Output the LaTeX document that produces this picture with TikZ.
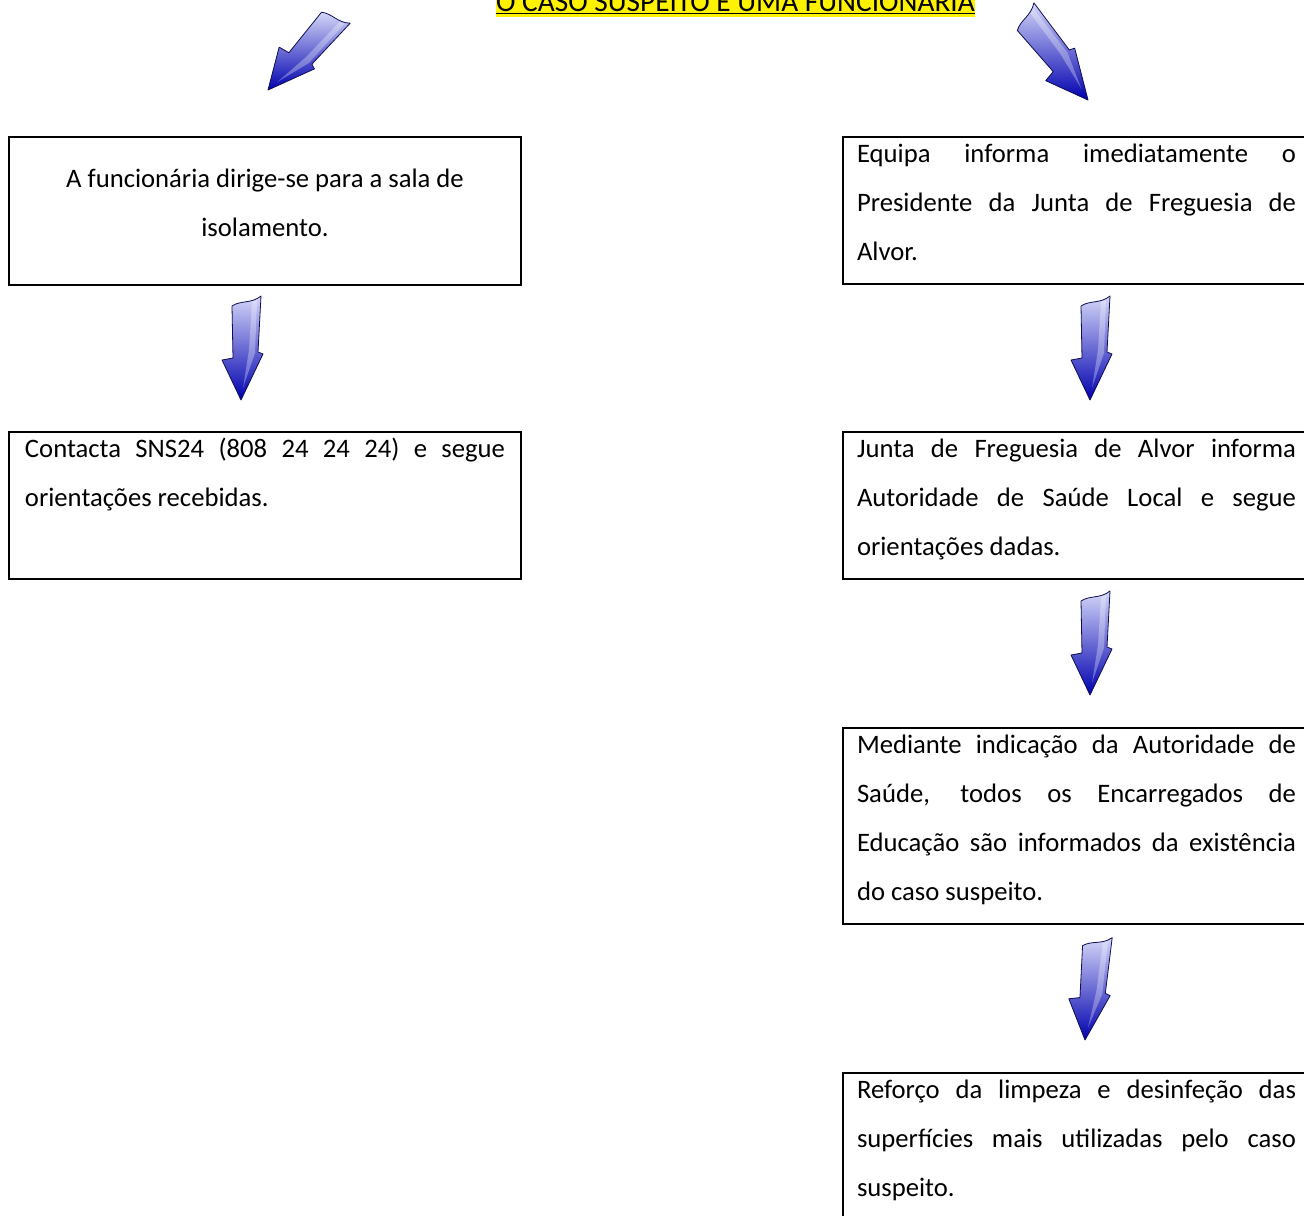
\documentclass[tikz,border=0pt]{standalone}
\usepackage{fontspec}
\setmainfont{Carlito}
\usetikzlibrary{positioning}

\definecolor{setaclara}{RGB}{212,214,248}
\definecolor{setameio}{RGB}{80,88,225}
\definecolor{setaescura}{RGB}{0,0,175}
\definecolor{setaborda}{RGB}{15,15,80}
\newcommand{\espaco}{\rule[-18pt]{0pt}{36.75pt}}
\newcommand{\ajuste}{\tolerance=9999\relax\hyphenpenalty=10000\relax}

\begin{document}
\begin{tikzpicture}[x=0.75pt, y=-0.75pt,
	caixa/.style={draw, line width=1.5pt, anchor=north west, inner ysep=0pt, align=justify,
		font=\fontsize{20}{36.75}\selectfont\ajuste},
	esquerda/.style={caixa, text width=360pt, inner xsep=12pt},
	direita/.style={caixa, text width=329.25pt, inner xsep=10.5pt},
	titulo/.style={fill=yellow, inner sep=0pt, anchor=base, text height=20pt, text depth=4.5pt,
		font=\fontsize{22}{26}\selectfont},
	pics/seta/.style={code={
		\shade[top color=setaclara, middle color=setameio, bottom color=setaescura, draw=setaborda,
			line width=0.6pt, line join=round]
			(0,0) -- (-19,-40) -- (-8,-42) -- (-9,-94) .. controls (0,-100) and (10,-96) .. (20,-104)
			-- (17,-48) -- (22,-46) -- cycle;
		\fill[white, opacity=0.3] (2,-12) -- (14,-47) -- (16,-100) -- (11,-98) -- (8,-50) -- cycle;
	}}]
	\useasboundingbox (0,0) rectangle (1304,1215);
	\clip (0,0) rectangle (1304,1215);

	% titulo
	\node[titulo] (t) at (735.5,11) {O CASO SUSPEITO É UMA FUNCIONÁRIA};
	\draw[line width=0.8pt] ([yshift=-1.9pt]t.base west) -- ([yshift=-1.9pt]t.base east);

	% lado esquerdo
	\node[esquerda, align=flush center, minimum height=111pt] (e1) at (8,136)
		{\espaco A funcionária dirige-se para a sala de\\isolamento.\espaco};
	\node[esquerda] (e2) at (8,431)
		{\espaco Contacta SNS24 (808 24 24 24) e segue\linebreak orientações recebidas.\par\espaco};

	% lado direito
	\node[direita] (d1) at (842,136)
		{\espaco Equipa informa imediatamente o\linebreak Presidente da Junta de Freguesia de\linebreak Alvor.\espaco};
	\node[direita] (d2) at (842,431)
		{\espaco Junta de Freguesia de Alvor informa\linebreak Autoridade de Saúde Local e segue\linebreak orientações dadas.\espaco};
	\node[direita] (d3) at (842,727)
		{\espaco Mediante indicação da Autoridade de\linebreak Saúde, todos os Encarregados de\linebreak Educação são informados da existência\linebreak do caso suspeito.\espaco};
	\node[direita] (d4) at (842,1072)
		{\espaco Reforço da limpeza e desinfeção das\linebreak superfícies mais utilizadas pelo caso\linebreak suspeito.\espaco};

	% setas
	\pic[rotate=-40] at (268,90) {seta};
	\pic[rotate=40, scale=1.05] at (1088,100) {seta};
	\pic at (241,400) {seta};
	\pic at (1090,400) {seta};
	\pic at (1090,695) {seta};
	\pic[rotate=-4] at (1085,1040) {seta};
\end{tikzpicture}
\end{document}
